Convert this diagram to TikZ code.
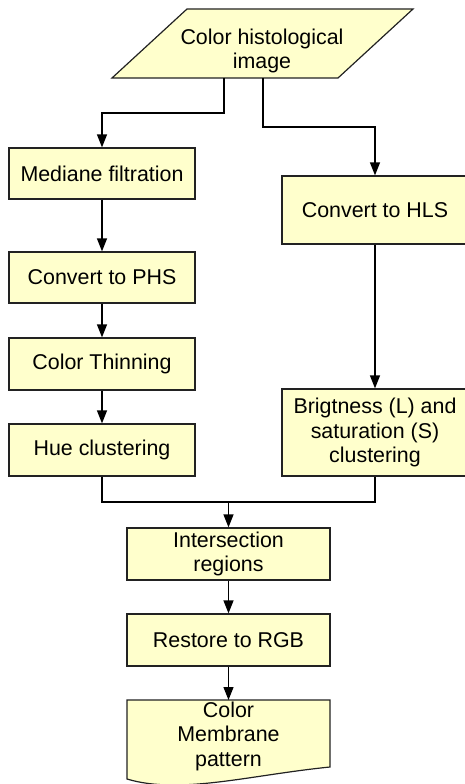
\documentclass[tikz,border=0pt]{standalone}
\usepackage{fontspec}
\setmainfont{Liberation Sans}
\usetikzlibrary{arrows.meta}
\definecolor{boxfill}{HTML}{FFFFCC}
\definecolor{edge}{HTML}{222222}
\tikzset{
  shapeline/.style={draw=edge, line width=1.2pt, fill=boxfill},
  stepbox/.style={shapeline, rectangle, inner sep=0pt, align=center,
    font=\fontsize{21.4}{24.5}\selectfont},
  txt/.style={inner sep=0pt, align=center, font=\fontsize{21.4}{24.5}\selectfont},
  conn/.style={draw=black, line width=1.2pt},
  arr/.style={conn, -{Triangle[length=13pt,width=10pt]}}
}
\begin{document}
\begin{tikzpicture}[x=1pt,y=-1pt]
\useasboundingbox (0,0) rectangle (465,784);
% input parallelogram
\path[shapeline] (187,9) -- (413,9) -- (338,78) -- (112,78) -- cycle;
\node[txt] (src) at (262,51) {Color histological\\image};
\coordinate (s1) at (224,78);
\coordinate (s2) at (263,78);
% left column
\node[stepbox, minimum width=186, minimum height=51] (med) at (102,173.5) {Mediane filtration};
\node[stepbox, minimum width=186, minimum height=51] (phs) at (102,277.5) {Convert to PHS};
\node[stepbox, minimum width=186, minimum height=52] (thin) at (102,364) {Color Thinning};
\node[stepbox, minimum width=186, minimum height=52] (hue) at (102,450) {Hue clustering};
% right column
\node[stepbox, minimum width=186, minimum height=68] (hls) at (375,210) {Convert to HLS};
\node[stepbox, minimum width=186, minimum height=87] (bri) at (375,432.5) {Brigtness (L) and\\saturation (S)\\clustering};
% bottom
\node[stepbox, minimum width=203, minimum height=52] (inter) at (228.5,554) {Intersection\\regions};
\node[stepbox, minimum width=203, minimum height=52] (rgb) at (228.5,640) {Restore to RGB};
\path[shapeline] (127,700) -- (330,700) -- (330,767) .. controls (250,775) and (180,795) .. (127,779) -- cycle;
\node[txt] (out) at (228.5,736) {Color\\Membrane\\pattern};
\coordinate (outtop) at (228.5,700);
% connectors
\draw[arr] (s1) -- (224,113) -| (med.north);
\draw[arr] (s2) -- (263,127) -| (hls.north);
\draw[arr] (med) -- (phs);
\draw[arr] (phs) -- (thin);
\draw[arr] (thin) -- (hue);
\draw[arr] (hls) -- (bri);
\coordinate (j) at (228.5,502);
\draw[conn] (hue.south) |- (j) -| (bri.south);
\draw[arr] (j) -- (inter.north);
\draw[arr] (inter) -- (rgb);
\draw[arr] (rgb) -- (outtop);
\end{tikzpicture}
\end{document}
